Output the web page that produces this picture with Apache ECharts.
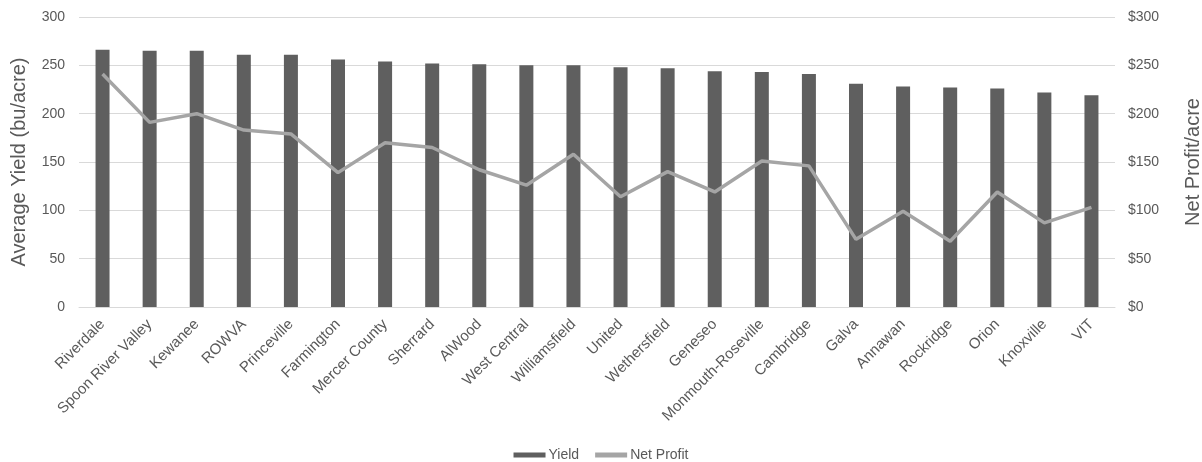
<!DOCTYPE html>
<html><head><meta charset="utf-8">
<script src="https://cdn.jsdelivr.net/npm/echarts@6/dist/echarts.min.js"></script>
<style>html,body{margin:0;padding:0;background:#fff}#c{width:1202px;height:462px}</style>
</head><body><div id="c"></div>
<script>
const categories = ["Riverdale","Spoon River Valley","Kewanee","ROWVA","Princeville","Farmington","Mercer County","Sherrard","AlWood","West Central","Williamsfield","United","Wethersfield","Geneseo","Monmouth-Roseville","Cambridge","Galva","Annawan","Rockridge","Orion","Knoxville","VIT"];
const yieldValues = [266,265,265,261,261,256,254,252,251,250,250,248,247,244,243,241,231,228,227,226,222,219];
const netProfit = [241,191,200,183,179,139,170,165,142,126,158,114,140,119,151,146,70,99,68,119,87,103];
const FONT = '"Liberation Sans", Arial, Helvetica, sans-serif';
const chart = echarts.init(document.getElementById('c'));
chart.setOption({
  animation:false,
  textStyle:{fontFamily:FONT},
  grid:{left:79,right:87,top:17,bottom:155,containLabel:false,outerBoundsMode:'none'},
  legend:{top:443,left:'center',itemWidth:32,itemHeight:5,itemGap:16,
    textStyle:{color:'#595959',fontSize:14,fontFamily:FONT,padding:[0,0,0,-2]},
    data:[{name:'Yield',icon:'rect'},{name:'Net Profit',icon:'rect',itemStyle:{color:'#a5a5a5'}}]},
  xAxis:{type:'category',data:categories,
    axisLine:{lineStyle:{color:'#d9d9d9'}},axisTick:{show:false},
    axisLabel:{rotate:45,color:'#595959',fontSize:15,fontFamily:FONT,margin:15,interval:0}},
  yAxis:[
    {type:'value',min:0,max:300,interval:50,name:'Average Yield (bu/acre)',nameLocation:'middle',nameGap:50,
     nameTextStyle:{color:'#595959',fontSize:20,fontFamily:FONT},
     axisLabel:{color:'#595959',fontSize:14,fontFamily:FONT,margin:14},
     axisLine:{show:false},axisTick:{show:false},splitLine:{lineStyle:{color:'#d9d9d9'}}},
    {type:'value',min:0,max:300,interval:50,name:'Net Profit/acre',nameLocation:'middle',nameGap:68,nameRotate:90,
     nameTextStyle:{color:'#595959',fontSize:20,fontFamily:FONT},
     axisLabel:{color:'#595959',fontSize:14,fontFamily:FONT,margin:13,formatter:'${value}'},
     axisLine:{show:false},axisTick:{show:false},splitLine:{show:false}}
  ],
  series:[
    {name:'Yield',type:'bar',data:yieldValues,barWidth:14,itemStyle:{color:'#5f5f5f'}},
    {name:'Net Profit',type:'line',yAxisIndex:1,data:netProfit,symbol:'none',
     lineStyle:{color:'#a5a5a5',width:3.5},itemStyle:{color:'#a5a5a5'}}
  ]
});
</script></body></html>
